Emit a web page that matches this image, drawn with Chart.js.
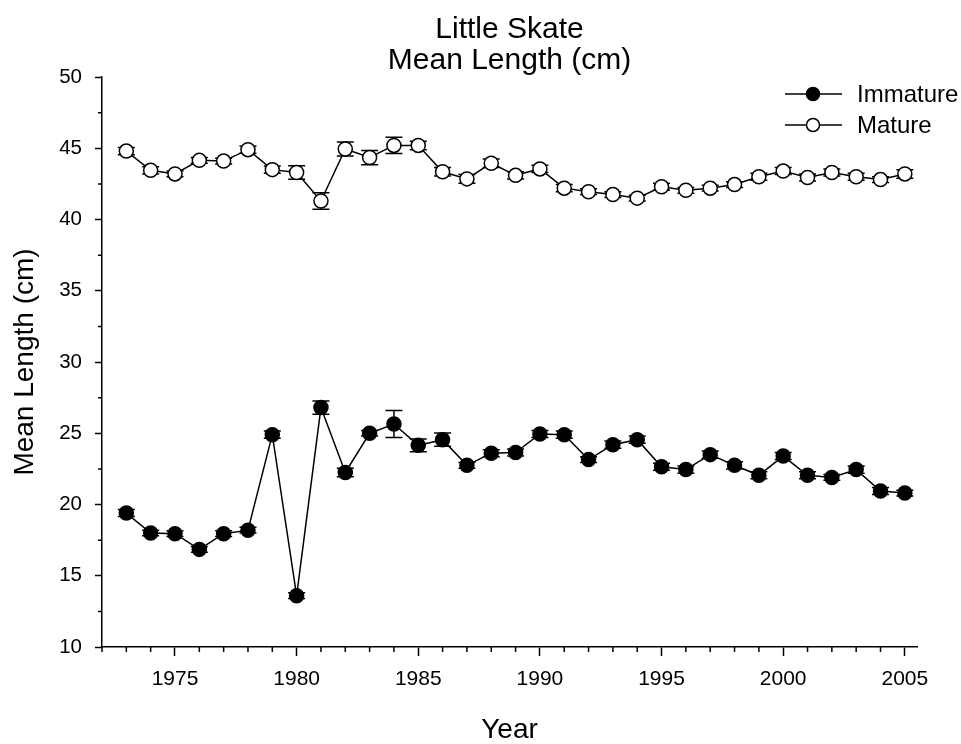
<!DOCTYPE html>
<html><head><meta charset="utf-8">
<script src="https://cdn.jsdelivr.net/npm/chart.js@4/dist/chart.umd.min.js"></script>
<style>html,body{margin:0;padding:0;background:#fff}#wrap{width:961px;height:744px}</style>
</head><body><div id="wrap"><canvas id="c" width="961" height="744"></canvas></div>
<script>
const years = [1973,1974,1975,1976,1977,1978,1979,1980,1981,1982,1983,1984,1985,1986,1987,1988,1989,1990,1991,1992,1993,1994,1995,1996,1997,1998,1999,2000,2001,2002,2003,2004,2005];
const immature = [19.4,18.0,17.95,16.85,17.95,18.2,24.9,13.6,26.8,22.25,25.0,25.65,24.15,24.55,22.75,23.6,23.65,24.95,24.9,23.15,24.2,24.55,22.65,22.45,23.5,22.75,22.05,23.4,22.05,21.9,22.45,20.95,20.8];
const immatureErr = [0.25,0.2,0.2,0.2,0.2,0.2,0.25,0.2,0.47,0.3,0.2,0.95,0.45,0.47,0.2,0.25,0.25,0.25,0.25,0.2,0.25,0.25,0.25,0.25,0.25,0.25,0.25,0.25,0.25,0.2,0.25,0.25,0.2];
const mature = [44.8,43.45,43.2,44.15,44.1,44.9,43.5,43.3,41.3,44.95,44.35,45.2,45.2,43.35,42.85,43.95,43.1,43.55,42.2,41.95,41.75,41.5,42.3,42.05,42.2,42.45,43.0,43.4,42.95,43.3,43.0,42.8,43.2];
const matureErr = [0.25,0.25,0.2,0.2,0.2,0.25,0.25,0.48,0.58,0.49,0.5,0.57,0.3,0.3,0.3,0.3,0.25,0.25,0.25,0.2,0.2,0.2,0.25,0.2,0.2,0.2,0.25,0.25,0.25,0.25,0.25,0.2,0.3];
const xMajorTicks = [1975,1980,1985,1990,1995,2000,2005];
const xMinorTicks = [1972,1973,1974,1976,1977,1978,1979,1981,1982,1983,1984,1986,1987,1988,1989,1991,1992,1993,1994,1996,1997,1998,1999,2001,2002,2003,2004];
const yMajorTicks = [10,15,20,25,30,35,40,45,50];
const yMinorTicks = [12.5,17.5,22.5,27.5,32.5,37.5,42.5,47.5];
const titleLines = ['Little Skate','Mean Length (cm)'];
const seriesNames = ['Immature','Mature'];
const xAxisTitle = 'Year';
const yAxisTitle = 'Mean Length (cm)';

const FONT = '"Liberation Sans", Arial, Helvetica, sans-serif';
const errs = [immatureErr, matureErr];

const errorBars = {
  id: 'errorBars',
  beforeDatasetsDraw(chart) {
    const ctx = chart.ctx, xs = chart.scales.x, ys = chart.scales.y;
    ctx.save();
    ctx.strokeStyle = '#000'; ctx.lineWidth = 1.5;
    chart.data.datasets.forEach((ds, i) => {
      ds.data.forEach((p, j) => {
        const e = errs[i][j];
        const x = xs.getPixelForValue(p.x);
        const y1 = ys.getPixelForValue(p.y + e), y2 = ys.getPixelForValue(p.y - e);
        ctx.beginPath();
        ctx.moveTo(x, y1); ctx.lineTo(x, y2);
        ctx.moveTo(x - 8.5, y1); ctx.lineTo(x + 8.5, y1);
        ctx.moveTo(x - 8.5, y2); ctx.lineTo(x + 8.5, y2);
        ctx.stroke();
      });
    });
    ctx.restore();
  }
};

const extras = {
  id: 'extras',
  afterDraw(chart) {
    const ctx = chart.ctx, xs = chart.scales.x, ys = chart.scales.y, ca = chart.chartArea;
    ctx.save();
    ctx.strokeStyle = '#000'; ctx.lineWidth = 1.5;
    ctx.beginPath();
    xMinorTicks.forEach(v => { const x = xs.getPixelForValue(v); ctx.moveTo(x, ca.bottom); ctx.lineTo(x, ca.bottom + 5); });
    yMinorTicks.forEach(v => { const y = ys.getPixelForValue(v); ctx.moveTo(ca.left, y); ctx.lineTo(ca.left - 4, y); });
    ctx.stroke();
    // title
    ctx.fillStyle = '#000';
    ctx.textAlign = 'center'; ctx.textBaseline = 'middle';
    ctx.font = '30px ' + FONT;
    const cx = (ca.left + ca.right) / 2;
    ctx.fillText(titleLines[0], cx, 30);
    ctx.fillText(titleLines[1], cx, 61);
    // legend
    const rows = [94, 125];
    ctx.font = '24px ' + FONT;
    ctx.textAlign = 'left';
    chart.data.datasets.forEach((ds, i) => {
      const y = rows[i];
      ctx.beginPath(); ctx.moveTo(785, y); ctx.lineTo(842, y); ctx.stroke();
      ctx.beginPath(); ctx.arc(813, y, 6.5, 0, Math.PI * 2);
      ctx.fillStyle = ds.pointBackgroundColor; ctx.fill(); ctx.stroke();
      ctx.fillStyle = '#000';
      ctx.fillText(seriesNames[i], 857, y + 1);
    });
    ctx.restore();
  }
};

new Chart(document.getElementById('c'), {
  type: 'line',
  data: {
    datasets: [
      { label: seriesNames[0], data: years.map((y, i) => ({x: y, y: immature[i]})),
        borderColor: '#000', borderWidth: 1.5, pointBackgroundColor: '#000', pointBorderColor: '#000',
        pointRadius: 7, pointBorderWidth: 1.5, tension: 0 },
      { label: seriesNames[1], data: years.map((y, i) => ({x: y, y: mature[i]})),
        borderColor: '#000', borderWidth: 1.5, pointBackgroundColor: '#fff', pointBorderColor: '#000',
        pointRadius: 7, pointBorderWidth: 1.5, tension: 0 }
    ]
  },
  options: {
    responsive: false, animation: false, devicePixelRatio: 1,
    layout: { padding: { top: 77, right: 44, left: 0, bottom: 0 } },
    plugins: { legend: { display: false }, title: { display: false }, tooltip: { enabled: false } },
    scales: {
      x: {
        type: 'linear', min: 1972, max: 2005.5,
        afterFit(s) { s.height = 97; },
        afterBuildTicks(s) { s.ticks = xMajorTicks.map(v => ({value: v})); },
        grid: { drawOnChartArea: false, drawTicks: true, tickLength: 9, tickWidth: 1.5, tickColor: '#000' },
        border: { display: true, color: '#000', width: 1.5 },
        ticks: { autoSkip: false, maxRotation: 0, padding: 11, color: '#000', font: { family: FONT, size: 21 }, callback: v => String(v) },
        title: { display: true, text: xAxisTitle, color: '#000', font: { family: FONT, size: 28, lineHeight: 1 }, padding: { top: 0, bottom: 0 } }
      },
      y: {
        type: 'linear', min: 10, max: 50,
        afterFit(s) { s.width = 102; },
        afterBuildTicks(s) { s.ticks = yMajorTicks.map(v => ({value: v})); },
        grid: { drawOnChartArea: false, drawTicks: true, tickLength: 7, tickWidth: 1.5, tickColor: '#000' },
        border: { display: true, color: '#000', width: 1.5 },
        ticks: { padding: 13, color: '#000', font: { family: FONT, size: 20.5 } },
        title: { display: true, text: yAxisTitle, color: '#000', font: { family: FONT, size: 28, lineHeight: 1 }, padding: { top: 11, bottom: 0 } }
      }
    }
  },
  plugins: [errorBars, extras]
});
</script></body></html>
